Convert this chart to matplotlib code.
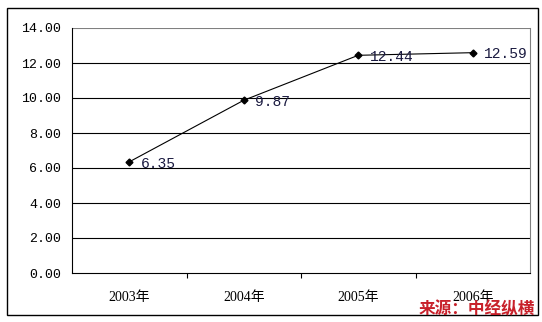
import matplotlib
matplotlib.use("Agg")
import matplotlib.pyplot as plt
from matplotlib.patches import Rectangle

years = ["2003年", "2004年", "2005年", "2006年"]
values = [6.35, 9.87, 12.44, 12.59]
yticks = [0, 2, 4, 6, 8, 10, 12, 14]

plt.rcParams['font.family'] = ['Liberation Serif', 'Noto Sans CJK SC']

W, H = 542, 322
fig = plt.figure(figsize=(W / 100, H / 100), dpi=100)

# outer chart border
fig.patches.append(Rectangle((7 / W, 1 - 315 / H), 531 / W, 307 / H,
                             transform=fig.transFigure, fill=False,
                             edgecolor='black', linewidth=1))

ax = fig.add_axes([72 / W, 1 - 273 / H, 458 / W, 245 / H])
x = list(range(len(years)))
ax.plot(x, values, color='black', linewidth=0.8, marker='D', markersize=3.5,
        markerfacecolor='black')
for xi, v in zip(x, values):
    ax.text(xi + 0.1, v - 0.1, "%.2f" % v, fontsize=10.5, color='#1a1a40',
            va='center', ha='left',
            family=['Liberation Mono', 'DejaVu Sans Mono'])

ax.set_xlim(-0.5, 3.5)
ax.set_ylim(0, 14)
ax.set_yticks(yticks)
ax.set_yticklabels(["%.2f" % t for t in yticks], fontsize=9.5,
                   family=['Liberation Mono', 'DejaVu Sans Mono'])
ax.set_xticks(x)
ax.set_xticklabels(years, fontsize=10,
                   family=['Liberation Serif', 'Noto Sans CJK SC'])
ax.set_xticks([0.5, 1.5, 2.5], minor=True)
ax.tick_params(axis='x', which='major', length=0, pad=13)
ax.tick_params(axis='x', which='minor', length=3.5, direction='out', width=0.8)
ax.tick_params(axis='y', length=0, pad=8)

for t in yticks[1:-1]:
    ax.axhline(t, color='black', linewidth=0.8, zorder=0)
ax.axhline(14, color='#808080', linewidth=0.8, zorder=0)

ax.spines['top'].set_visible(False)
ax.spines['right'].set_color('#808080')
ax.spines['left'].set_linewidth(0.8)
ax.spines['bottom'].set_linewidth(0.8)

fig.text(535 / W, 1 - 309 / H, "来源：中经纵横", color='#c8202a', fontsize=12,
         fontweight='bold', style='italic', ha='right', va='center',
         family=['Noto Sans CJK SC'])

fig.savefig("out.png", dpi=100)
